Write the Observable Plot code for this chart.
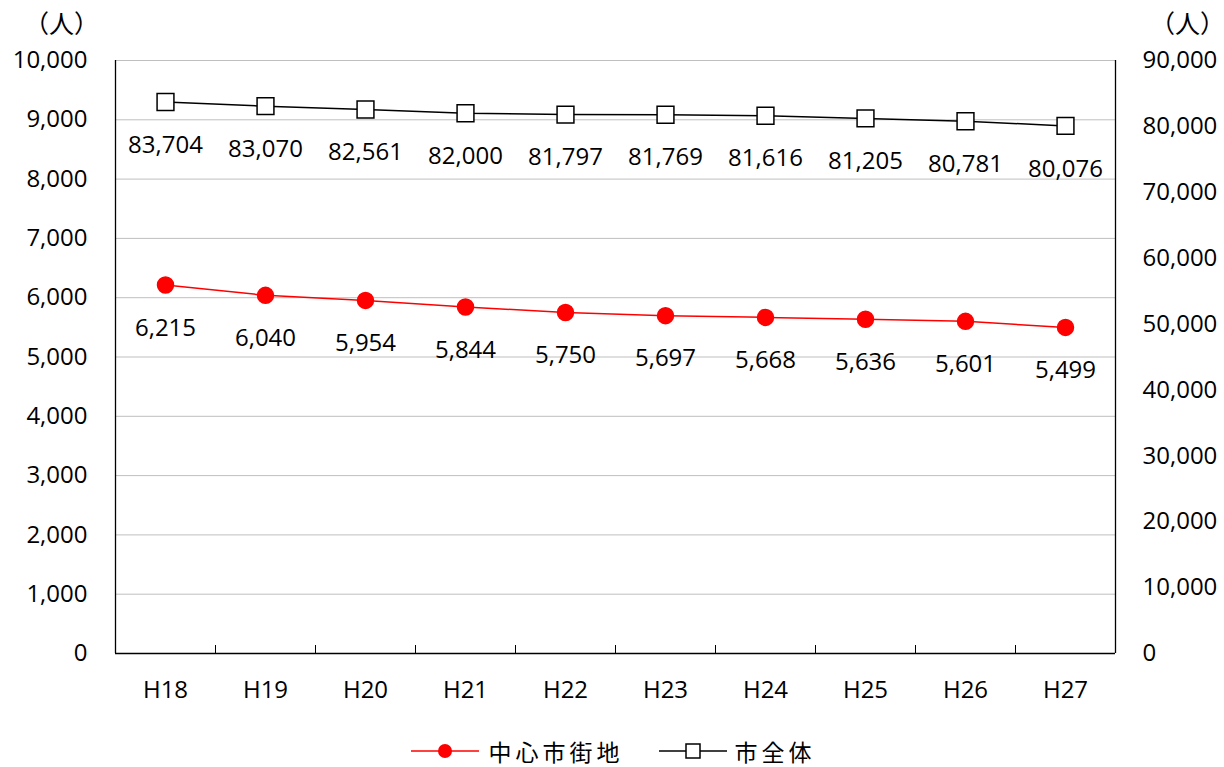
<!DOCTYPE html>
<html><head><meta charset="utf-8">
<script src="https://cdn.jsdelivr.net/npm/d3@7"></script>
<script src="https://cdn.jsdelivr.net/npm/@observablehq/plot@0.6"></script>
<style>
html,body{margin:0;padding:0;background:#fff;overflow:hidden;}
#wrap{position:relative;width:1224px;height:767px;font-family:"Open Sans","Noto Sans CJK JP",sans-serif;}
#chart svg{display:block;}
.unit{position:absolute;top:4px;font-size:25px;font-family:"Noto Sans CJK JP",sans-serif;color:#000;line-height:36px;}
#legend{position:absolute;left:0;top:736px;width:1224px;height:30px;display:flex;justify-content:center;align-items:center;font-family:"Noto Sans CJK JP",sans-serif;font-size:23px;color:#000;}
#legend .item{display:flex;align-items:center;height:30px;}
#legend span{line-height:28px;letter-spacing:4px;}
#legend svg{display:block;}
</style></head><body>
<div id="wrap">
<div id="chart"></div>
<div class="unit" style="left:24px">（人）</div>
<div class="unit" style="left:1150px">（人）</div>
<div id="legend"></div>
</div>
<script>
const years = ["H18","H19","H20","H21","H22","H23","H24","H25","H26","H27"];
const central = [6215,6040,5954,5844,5750,5697,5668,5636,5601,5499];
const cityTotal = [83704,83070,82561,82000,81797,81769,81616,81205,80781,80076];
const leftTicks = d3.range(0, 10001, 1000);
const rightTicks = d3.range(0, 90001, 10000);
const seriesNames = ["中心市街地","市全体"];

const leftMax = 10000, rightMax = 90000;
const ratio = leftMax / rightMax;
const fmt = d3.format(",");

const centralData = years.map((y,i)=>({year:y, xi:i+0.5, value:central[i], yv:central[i]}));
const totalData = years.map((y,i)=>({year:y, xi:i+0.5, value:cityTotal[i], yv:cityTotal[i]*ratio}));

const chart = Plot.plot({
  width: 1224, height: 725,
  marginLeft: 115, marginRight: 109, marginTop: 60, marginBottom: 72,
  x: {domain: [0, years.length], axis: null},
  y: {domain: [0, leftMax], axis: null},
  style: {fontFamily: '"Open Sans","Noto Sans CJK JP",sans-serif', fontSize: "24px", color: "#000", background: "#fff"},
  marks: [
    Plot.ruleY(leftTicks.slice(1), {stroke: "#bfbfbf", strokeWidth: 1}),
    Plot.ruleY([0], {stroke: "#000", strokeWidth: 1.3}),
    Plot.ruleX([0, years.length], {stroke: "#000", strokeWidth: 1.3}),
    Plot.axisY(leftTicks, {anchor: "left", tickSize: 0, tickPadding: 28, tickFormat: fmt, fontSize: 24, label: null}),
    Plot.axisY(rightTicks.map(v=>v*ratio), {anchor: "right", tickSize: 0, tickPadding: 27, tickFormat: v=>fmt(Math.round(v/ratio)), fontSize: 24, label: null}),
    Plot.axisX(d3.range(1, years.length), {anchor: "bottom", tickSize: -8, tickFormat: ()=>"", label: null, stroke: "#000"}),
    Plot.axisX(years.map((d,i)=>i+0.5), {anchor: "bottom", tickSize: 0, tickPadding: 27, tickFormat: v=>years[Math.floor(v)], fontSize: 24, label: null}),
    Plot.line(totalData, {x: "xi", y: "yv", stroke: "#000", strokeWidth: 1.5}),
    Plot.dot(totalData, {x: "xi", y: "yv", symbol: "square", r: 9.5, fill: "#fff", stroke: "#000", strokeWidth: 1.5}),
    Plot.text(totalData, {x: "xi", y: "yv", text: d=>fmt(d.value), dy: 43, fontSize: 24, fill: "#000"}),
    Plot.line(centralData, {x: "xi", y: "yv", stroke: "#ff0000", strokeWidth: 1.5}),
    Plot.dot(centralData, {x: "xi", y: "yv", r: 8, fill: "#ff0000", stroke: "#ff0000"}),
    Plot.text(centralData, {x: "xi", y: "yv", text: d=>fmt(d.value), dy: 43, fontSize: 24, fill: "#000"})
  ]
});
document.getElementById("chart").appendChild(chart);

const legend = document.getElementById("legend");
legend.innerHTML = `
<div class="item"><svg width="72" height="20"><line x1="2" y1="10" x2="70" y2="10" stroke="#ff0000" stroke-width="1.5"/><circle cx="36" cy="10" r="7" fill="#ff0000"/></svg><span style="margin-left:8px">${seriesNames[0]}</span></div>
<div class="item" style="margin-left:33px"><svg width="72" height="20"><line x1="2" y1="10" x2="70" y2="10" stroke="#000" stroke-width="1.5"/><rect x="29" y="3" width="14" height="14" fill="#fff" stroke="#000" stroke-width="1.5"/></svg><span style="margin-left:6px">${seriesNames[1]}</span></div>`;
</script>
</body></html>
